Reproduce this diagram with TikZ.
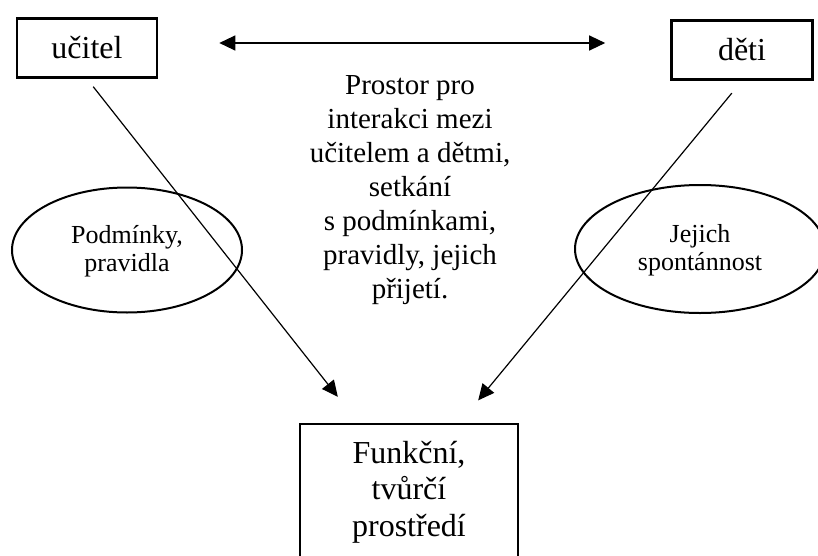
\documentclass[tikz,border=0pt]{standalone}
\usepackage{fontspec}
\setmainfont{Liberation Serif}
\usetikzlibrary{arrows.meta, positioning, shapes, calc}

\begin{document}
\begin{tikzpicture}[
    x=0.5pt, y=-0.5pt,
    box/.style={rectangle, draw, line width=1.3pt, minimum width=70pt, minimum height=29.5pt, font=\fontsize{16}{18}\selectfont},
    oval/.style={ellipse, draw, line width=1pt, align=center, text depth=2pt, font=\fontsize{13}{14}\selectfont},
    link/.style={-{Triangle[length=8pt, width=7.5pt]}, line width=0.6pt}
    ]
    \useasboundingbox (0,0) rectangle (818,556);
    \clip (0,0) rectangle (818,556);

    % Teacher and children
    \node[box] (ucitel) at (87,48) {učitel};
    \node[box, minimum width=70.5pt] (deti) at (742,50) {děti};
    \draw[link, {Triangle[length=8pt, width=7.5pt]}-{Triangle[length=8pt, width=7.5pt]}] ([shift={(61,-5)}]ucitel.east) -- ([shift={(-65,-7)}]deti.west);

    % Space for interaction
    \node[align=center, font=\fontsize{14.5}{17}\selectfont] (prostor) at (410,190) {Prostor pro\\interakci mezi\\učitelem a dětmi,\\setkání\\s podmínkami,\\pravidly, jejich\\přijetí.};

    % Conditions and spontaneity
    \node[oval, minimum width=115pt, minimum height=62.5pt] (podminky) at (127,250) {Podmínky,\\pravidla};
    \node[oval, minimum width=125pt, minimum height=64pt] (spontannost) at (700,249) {Jejich\\spontánnost};

    % Environment
    \node[box, minimum width=109pt, minimum height=68pt, align=center, font=\fontsize{16}{18.3}\selectfont] (prostredi) at (409,492) {Funkční,\\tvůrčí\\prostředí};

    % Connectors
    \draw[link, shorten <=5pt, shorten >=16.5pt] (ucitel.south) -- ($(prostredi.north west)!0.27!(prostredi.north east)$);
    \draw[link, shorten <=8pt, shorten >=14.5pt] (deti.south) -- ($(prostredi.north west)!0.73!(prostredi.north east)$);

\end{tikzpicture}
\end{document}
